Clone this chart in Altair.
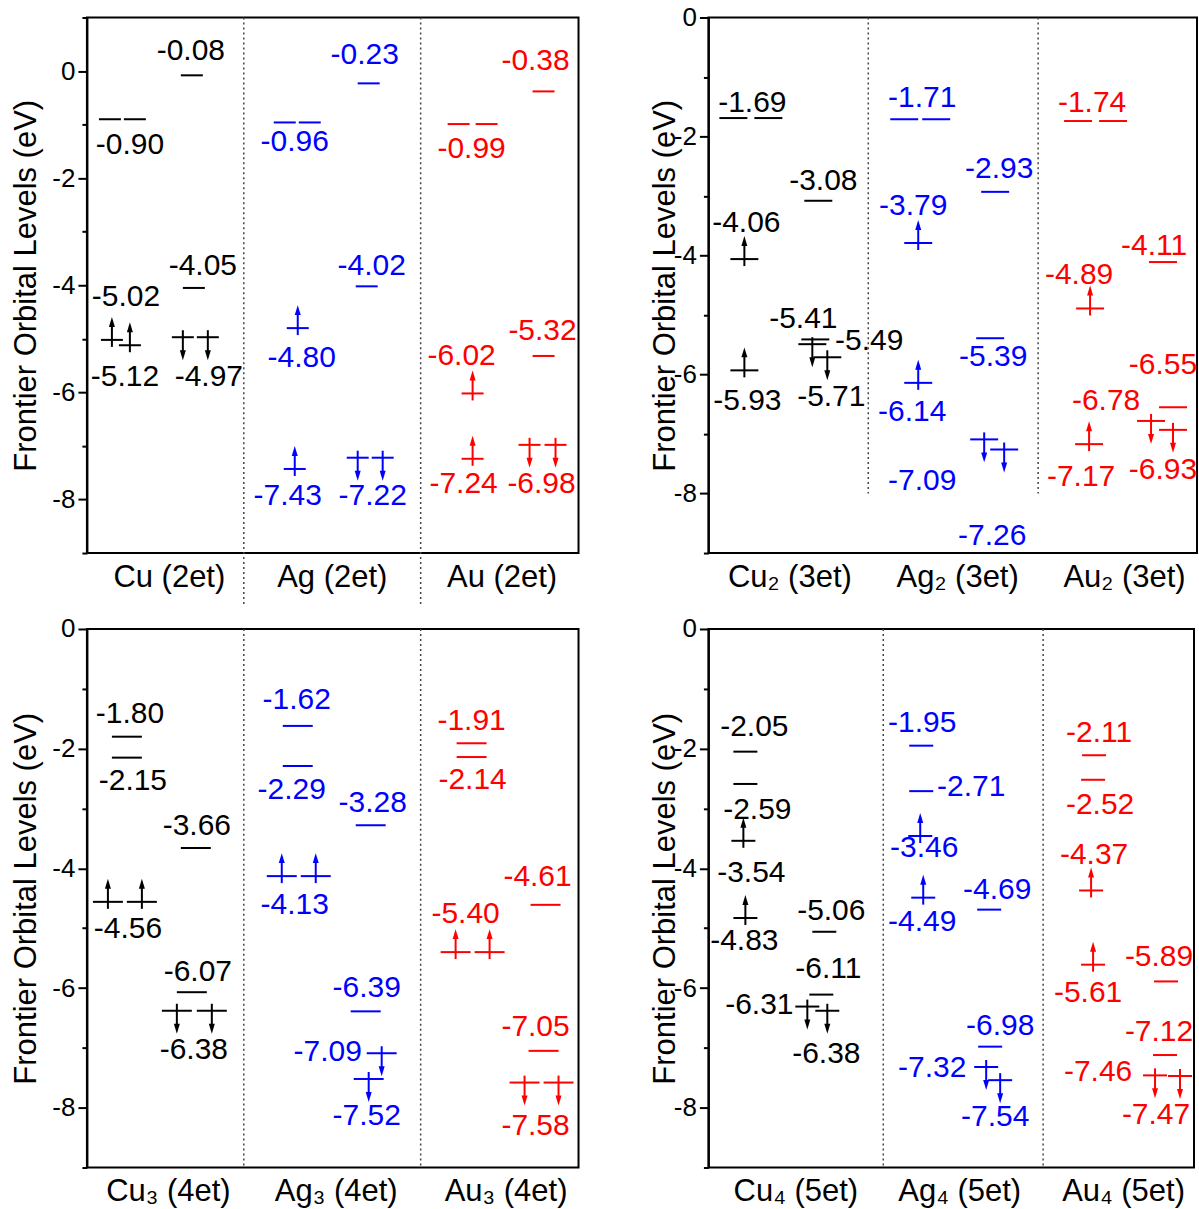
import altair as alt
import pandas as pd

FONT = "Liberation Sans, Arial, sans-serif"
COLORS = ["#000000", "#0000ff", "#ff0000"]
YTITLE = "Frontier Orbital Levels (eV)"

# ---------------- Panel 1: Cu/Ag/Au (2et) ----------------
P1_NAMES = ["Cu (2et)", "Ag (2et)", "Au (2et)"]
P1_CENTERS = [82, 245, 415]
P1_BOUNDS = [157, 334]
# (group, x, energy eV, spin) spin: n = empty level, u = spin-up electron, d = spin-down
P1_LEVELS = [
    (0, 23, -0.90, "n"), (0, 48, -0.90, "n"),
    (0, 25, -5.02, "u"), (0, 43, -5.12, "u"),
    (0, 105, -0.08, "n"), (0, 107, -4.05, "n"),
    (0, 96, -4.97, "d"), (0, 121, -4.97, "d"),
    (1, 198, -0.96, "n"), (1, 223, -0.96, "n"),
    (1, 211, -4.80, "u"), (1, 208, -7.43, "u"),
    (1, 282, -0.23, "n"), (1, 280, -4.02, "n"),
    (1, 271, -7.22, "d"), (1, 296, -7.22, "d"),
    (2, 372, -0.99, "n"), (2, 400, -0.99, "n"),
    (2, 386, -6.02, "u"), (2, 386, -7.24, "u"),
    (2, 457, -0.38, "n"), (2, 457, -5.32, "n"),
    (2, 443, -6.98, "d"), (2, 469, -6.98, "d"),
]
# (group, text, x, y in eV)
P1_LABELS = [
    (0, "-0.08", 104, 0.37), (0, "-0.90", 43, -1.38), (0, "-5.02", 39, -4.22),
    (0, "-5.12", 38, -5.71), (0, "-4.05", 116, -3.64), (0, "-4.97", 122, -5.71),
    (1, "-0.96", 208, -1.32), (1, "-4.80", 215, -5.35), (1, "-7.43", 201, -7.93),
    (1, "-0.23", 278, 0.30), (1, "-4.02", 285, -3.64), (1, "-7.22", 286, -7.93),
    (2, "-0.99", 385, -1.46), (2, "-6.02", 375, -5.32), (2, "-7.24", 377, -7.72),
    (2, "-0.38", 449, 0.19), (2, "-5.32", 456, -4.85), (2, "-6.98", 455, -7.71),
]

# ---------------- Panel 2: Cu2/Ag2/Au2 (3et) ----------------
P2_NAMES = ["Cu\u2082 (3et)", "Ag\u2082 (3et)", "Au\u2082 (3et)"]
P2_CENTERS = [81, 249, 416]
P2_BOUNDS = [160, 330]
P2_LEVELS = [
    (0, 25, -1.69, "n"), (0, 60, -1.69, "n"),
    (0, 36, -4.06, "u"), (0, 36, -5.93, "u"),
    (0, 110, -3.08, "n"), (0, 107, -5.41, "n"),
    (0, 104, -5.49, "d"), (0, 119, -5.71, "d"),
    (1, 196, -1.71, "n"), (1, 228, -1.71, "n"),
    (1, 210, -3.79, "u"), (1, 210, -6.14, "u"),
    (1, 287, -2.93, "n"), (1, 282, -5.39, "n"),
    (1, 276, -7.09, "d"), (1, 296, -7.26, "d"),
    (2, 370, -1.74, "n"), (2, 405, -1.74, "n"),
    (2, 382, -4.89, "u"), (2, 381, -7.17, "u"),
    (2, 455, -4.11, "n"), (2, 465, -6.55, "n"),
    (2, 443, -6.78, "d"), (2, 465, -6.93, "d"),
]
P2_LABELS = [
    (0, "-1.69", 44, -1.43), (0, "-4.06", 38, -3.46), (0, "-5.93", 39, -6.45),
    (0, "-3.08", 115, -2.74), (0, "-5.41", 95, -5.07), (0, "-5.49", 161, -5.44),
    (0, "-5.71", 123, -6.38),
    (1, "-1.71", 214, -1.36), (1, "-3.79", 205, -3.17), (1, "-6.14", 204, -6.63),
    (1, "-2.93", 291, -2.55), (1, "-5.39", 285, -5.70), (1, "-7.09", 214, -7.79),
    (1, "-7.26", 284, -8.71),
    (2, "-1.74", 384, -1.43), (2, "-4.89", 371, -4.33), (2, "-7.17", 373, -7.72),
    (2, "-4.11", 446, -3.84), (2, "-6.55", 455, -5.84), (2, "-6.78", 398, -6.44),
    (2, "-6.93", 455, -7.60),
]

# ---------------- Panel 3: Cu3/Ag3/Au3 (4et) ----------------
P3_NAMES = ["Cu\u2083 (4et)", "Ag\u2083 (4et)", "Au\u2083 (4et)"]
P3_CENTERS = [81, 249, 419]
P3_BOUNDS = [157, 334]
P3_LEVELS = [
    (0, 40, -1.80, "n"), (0, 40, -2.15, "n"),
    (0, 21, -4.56, "u"), (0, 55, -4.56, "u"),
    (0, 109, -3.66, "n"), (0, 105, -6.07, "n"),
    (0, 90, -6.38, "d"), (0, 125, -6.38, "d"),
    (1, 211, -1.62, "n"), (1, 211, -2.29, "n"),
    (1, 195, -4.13, "u"), (1, 229, -4.13, "u"),
    (1, 284, -3.28, "n"), (1, 279, -6.39, "n"),
    (1, 295, -7.09, "d"), (1, 282, -7.52, "d"),
    (2, 385, -1.91, "n"), (2, 385, -2.14, "n"),
    (2, 369, -5.40, "u"), (2, 403, -5.40, "u"),
    (2, 459, -4.61, "n"), (2, 457, -7.05, "n"),
    (2, 438, -7.58, "d"), (2, 472, -7.58, "d"),
]
P3_LABELS = [
    (0, "-1.80", 43, -1.42), (0, "-2.15", 46, -2.54), (0, "-4.56", 41, -5.02),
    (0, "-3.66", 110, -3.30), (0, "-6.07", 111, -5.74), (0, "-6.38", 107, -7.04),
    (1, "-1.62", 210, -1.19), (1, "-2.29", 205, -2.69), (1, "-4.13", 208, -4.62),
    (1, "-3.28", 286, -2.91), (1, "-6.39", 280, -6.00), (1, "-7.09", 241, -7.07),
    (1, "-7.52", 280, -8.14),
    (2, "-1.91", 385, -1.53), (2, "-2.14", 386, -2.52), (2, "-5.40", 379, -4.76),
    (2, "-4.61", 451, -4.14), (2, "-7.05", 449, -6.66), (2, "-7.58", 449, -8.31),
]

# ---------------- Panel 4: Cu4/Ag4/Au4 (5et) ----------------
P4_NAMES = ["Cu\u2084 (5et)", "Ag\u2084 (5et)", "Au\u2084 (5et)"]
P4_CENTERS = [87, 251, 415]
P4_BOUNDS = [175, 335]
P4_LEVELS = [
    (0, 37, -2.05, "n"), (0, 37, -2.59, "n"),
    (0, 35, -3.54, "u"), (0, 37, -4.83, "u"),
    (0, 116, -5.06, "n"), (0, 113, -6.11, "n"),
    (0, 99, -6.31, "d"), (0, 119, -6.38, "d"),
    (1, 213, -1.95, "n"), (1, 213, -2.71, "n"),
    (1, 212, -3.46, "u"), (1, 215, -4.49, "u"),
    (1, 281, -4.69, "n"), (1, 282, -6.98, "n"),
    (1, 278, -7.32, "d"), (1, 292, -7.54, "d"),
    (2, 386, -2.11, "n"), (2, 385, -2.52, "n"),
    (2, 383, -4.37, "u"), (2, 385, -5.61, "u"),
    (2, 458, -5.89, "n"), (2, 457, -7.12, "n"),
    (2, 447, -7.46, "d"), (2, 472, -7.47, "d"),
]
P4_LABELS = [
    (0, "-2.05", 46, -1.64), (0, "-2.59", 49, -3.02), (0, "-3.54", 43, -4.07),
    (0, "-4.83", 36, -5.22), (0, "-5.06", 123, -4.72), (0, "-6.11", 120, -5.68),
    (0, "-6.31", 51, -6.28), (0, "-6.38", 118, -7.11),
    (1, "-1.95", 214, -1.57), (1, "-2.71", 263, -2.64), (1, "-3.46", 216, -3.66),
    (1, "-4.49", 214, -4.89), (1, "-4.69", 289, -4.36), (1, "-6.98", 292, -6.63),
    (1, "-7.32", 224, -7.33), (1, "-7.54", 287, -8.15),
    (2, "-2.11", 391, -1.74), (2, "-2.52", 392, -2.94), (2, "-4.37", 386, -3.77),
    (2, "-5.61", 380, -6.08), (2, "-5.89", 451, -5.48), (2, "-7.12", 451, -6.73),
    (2, "-7.46", 390, -7.41), (2, "-7.47", 448, -8.13),
]

UP_PATH = "M0,-1L0.6,1L-0.6,1Z"
DOWN_PATH = "M0,1L0.6,-1L-0.6,-1Z"


def make_panel(levels, labels, names, centers, bounds, ytop, sep_top, sep_bottom,
               width, height, halfw, title_pad):
    lv = pd.DataFrame(levels, columns=["g", "x", "e", "spin"])
    lb = pd.DataFrame(labels, columns=["g", "text", "x", "y"])
    sep = pd.DataFrame({"x": bounds, "e": [sep_top] * len(bounds),
                        "e2": [sep_bottom] * len(bounds)})

    xs = alt.Scale(domain=[0, width], nice=False, zero=False)
    ys = alt.Scale(domain=[-9, ytop], nice=False, zero=False)
    label_expr = " : ".join(
        f"datum.value == {c} ? '{n}'" for c, n in zip(centers, names)) + " : ''"
    xaxis = alt.Axis(values=centers, labelExpr=label_expr, ticks=False, domain=False,
                     grid=False, title=None, labelFontSize=31, labelPadding=9,
                     labelFont=FONT, labelColor="black")
    yaxis = alt.Axis(values=list(range(ytop, -10, -1)),
                     labelExpr="datum.value % 2 === 0 ? toString(datum.value) : ''",
                     tickSize={"condition": {"test": "datum.value % 2 === 0", "value": 9},
                               "value": 5},
                     grid=False, title=YTITLE, titleFontSize=31, titleFont=FONT,
                     titleFontWeight="normal", titlePadding=title_pad,
                     labelFontSize=26, labelFont=FONT, labelPadding=3,
                     labelColor="black", titleColor="black")
    X = alt.X("x:Q", scale=xs, axis=xaxis)
    Y = alt.Y("e:Q", scale=ys, axis=yaxis)
    color = alt.Color("g:N", scale=alt.Scale(domain=[0, 1, 2], range=COLORS), legend=None)

    seps = alt.Chart(sep).mark_rule(strokeDash=[2, 3], strokeWidth=1.5, color="#444").encode(
        x=X, y=Y, y2="e2:Q")
    lines = alt.Chart(lv).mark_rule(strokeWidth=2, xOffset=-halfw, x2Offset=halfw).encode(
        x=X, x2="x:Q", y=Y, color=color)
    up_shaft = alt.Chart(lv).transform_filter("datum.spin == 'u'").mark_rule(
        strokeWidth=2, yOffset=7, y2Offset=-15).encode(x=X, y=Y, y2="e:Q", color=color)
    dn_shaft = alt.Chart(lv).transform_filter("datum.spin == 'd'").mark_rule(
        strokeWidth=2, yOffset=-7, y2Offset=15).encode(x=X, y=Y, y2="e:Q", color=color)
    up_head = alt.Chart(lv).transform_filter("datum.spin == 'u'").mark_point(
        shape=UP_PATH, size=100, filled=True, opacity=1, strokeWidth=0, yOffset=-18).encode(
        x=X, y=Y, color=color)
    dn_head = alt.Chart(lv).transform_filter("datum.spin == 'd'").mark_point(
        shape=DOWN_PATH, size=100, filled=True, opacity=1, strokeWidth=0, yOffset=18).encode(
        x=X, y=Y, color=color)
    texts = alt.Chart(lb).mark_text(font=FONT, fontSize=30, baseline="middle",
                                    align="center").encode(
        x=X, y=alt.Y("y:Q", scale=ys, axis=yaxis), text="text:N", color=color)

    return alt.layer(seps, lines, up_shaft, dn_shaft, up_head, dn_head, texts).properties(
        width=width, height=height)


p1 = make_panel(P1_LEVELS, P1_LABELS, P1_NAMES, P1_CENTERS, P1_BOUNDS, 1, 1, -10,
                492, 536, 11, 9)
p2 = make_panel(P2_LEVELS, P2_LABELS, P2_NAMES, P2_CENTERS, P2_BOUNDS, 0, 0, -8,
                489, 536, 14, -8)
p3 = make_panel(P3_LEVELS, P3_LABELS, P3_NAMES, P3_CENTERS, P3_BOUNDS, 0, 0, -9,
                492, 539, 15, 9)
p4 = make_panel(P4_LEVELS, P4_LABELS, P4_NAMES, P4_CENTERS, P4_BOUNDS, 0, 0, -9,
                486, 539, 12, -8)

chart = alt.concat(
    p1, p2, p3, p4, columns=2, bounds="flush",
    spacing=alt.RowColnumber(row=76, column=130)
).properties(
    padding={"left": 9, "top": 3, "right": 0, "bottom": 0}
).configure(background="white").configure_view(
    stroke="black", strokeWidth=2
).configure_axis(
    domainColor="black", domainWidth=2, tickColor="black", tickWidth=2
)

chart.save("out.html", embed_options={"renderer": "svg", "actions": False})
